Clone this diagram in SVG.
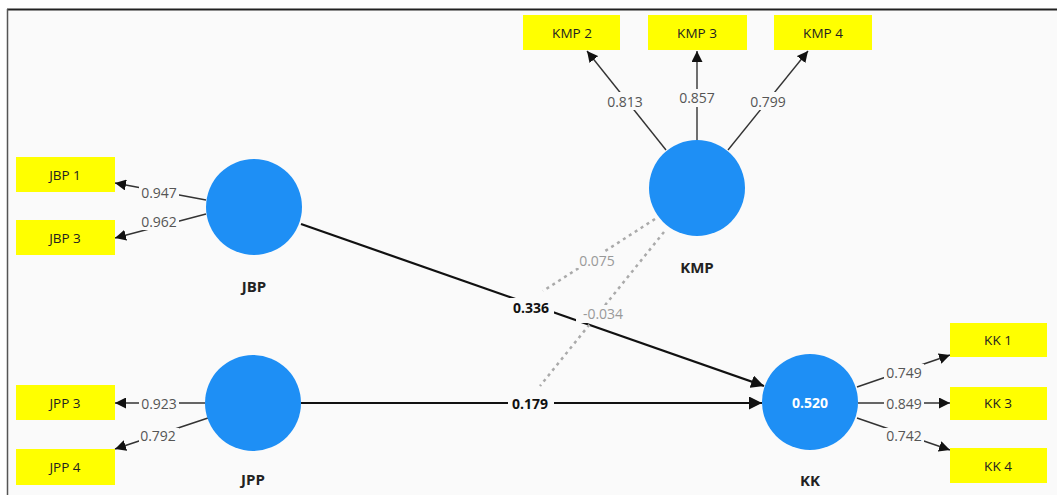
<svg xmlns="http://www.w3.org/2000/svg" width="1057" height="495" viewBox="0 0 1057 495">
<style>
.ind{fill:#ffff00;}
.indt{font-family:"Open Sans","Noto Sans",sans-serif;font-size:13.5px;fill:#222;text-anchor:middle;dominant-baseline:central;}
.lv{fill:#1e8ff5;}
.lvt{font-family:"Open Sans","Noto Sans",sans-serif;font-size:15px;font-weight:bold;fill:#222;text-anchor:middle;dominant-baseline:central;}
.ol{stroke:#333;stroke-width:1.4;fill:none;marker-end:url(#ah);}
.sl{stroke:#111;stroke-width:2.2;fill:none;marker-end:url(#ah2);}
.dl{stroke:#aaa;stroke-width:2.5;stroke-dasharray:3 4;fill:none;}
.bg{fill:#fafafa;}
.olt{font-family:"Open Sans","Noto Sans",sans-serif;font-size:14px;fill:#555;text-anchor:middle;dominant-baseline:central;}
.slt{font-family:"Open Sans","Noto Sans",sans-serif;font-size:14px;font-weight:bold;fill:#111;text-anchor:middle;dominant-baseline:central;}
.dlt{font-family:"Open Sans","Noto Sans",sans-serif;font-size:14px;fill:#999;text-anchor:middle;dominant-baseline:central;}
</style>
<defs>
<marker id="ah" viewBox="0 0 10 10" refX="10" refY="5" markerWidth="11" markerHeight="11" markerUnits="userSpaceOnUse" orient="auto"><path d="M0,0 L10,5 L0,10 z" fill="#111"/></marker>
<marker id="ah2" viewBox="0 0 10 10" refX="10" refY="5" markerWidth="13" markerHeight="13" markerUnits="userSpaceOnUse" orient="auto"><path d="M0,0 L10,5 L0,10 z" fill="#111"/></marker>
</defs>
<rect x="0" y="0" width="1057" height="495" fill="#ffffff"/>
<rect x="7" y="9" width="1050" height="486" fill="#fafafa"/>
<line x1="7" y1="9.5" x2="1057" y2="9.5" stroke="#222" stroke-width="2"/>
<line x1="7.5" y1="9" x2="7.5" y2="495" stroke="#555" stroke-width="1.5"/>

<g id="connectors">
  <line class="ol" x1="206" y1="200" x2="115" y2="183"/>
  <line class="ol" x1="206" y1="214" x2="115" y2="238"/>
  <line class="ol" x1="205" y1="403" x2="115" y2="403"/>
  <line class="ol" x1="208" y1="418" x2="115" y2="449"/>
  <line class="ol" x1="666" y1="150" x2="587" y2="51"/>
  <line class="ol" x1="697" y1="140" x2="697" y2="51"/>
  <line class="ol" x1="728" y1="150" x2="808" y2="51"/>
  <line class="ol" x1="857" y1="387" x2="950" y2="355"/>
  <line class="ol" x1="858" y1="403" x2="950" y2="403"/>
  <line class="ol" x1="857" y1="418" x2="950" y2="450"/>
  <line class="sl" x1="301" y1="224" x2="764" y2="386"/>
  <line class="sl" x1="301" y1="403" x2="762" y2="403"/>
  <line class="dl" x1="655" y1="219" x2="543" y2="291"/>
  <line class="dl" x1="664" y1="232" x2="540" y2="386"/>
  <rect class="bg" x="139" y="185" width="40" height="16"/><text class="olt" x="159" y="192">0.947</text>
  <rect class="bg" x="139" y="214" width="40" height="16"/><text class="olt" x="159" y="221">0.962</text>
  <rect class="bg" x="139" y="395" width="40" height="16"/><text class="olt" x="159" y="403">0.923</text>
  <rect class="bg" x="139" y="428" width="40" height="16"/><text class="olt" x="158" y="435">0.792</text>
  <rect class="bg" x="605" y="92" width="40" height="18"/><text class="olt" x="625" y="101">0.813</text>
  <rect class="bg" x="677" y="89" width="40" height="18"/><text class="olt" x="697" y="97">0.857</text>
  <rect class="bg" x="748" y="92" width="40" height="18"/><text class="olt" x="768" y="101">0.799</text>
  <rect class="bg" x="884" y="364" width="40" height="16"/><text class="olt" x="904" y="372">0.749</text>
  <rect class="bg" x="884" y="395" width="40" height="16"/><text class="olt" x="904" y="403">0.849</text>
  <rect class="bg" x="884" y="428" width="40" height="16"/><text class="olt" x="904" y="435">0.742</text>
  <rect class="bg" x="508" y="298" width="46" height="18"/><text class="slt" x="531" y="307">0.336</text>
  <rect class="bg" x="508" y="394" width="46" height="18"/><text class="slt" x="530" y="403">0.179</text>
  <rect class="bg" x="577" y="252" width="40" height="16"/><text class="dlt" x="597" y="260">0.075</text>
  <rect class="bg" x="576" y="305" width="54" height="18"/><text class="dlt" x="603" y="313">-0.034</text>
</g>

<g id="JBP">
  <circle class="lv" cx="254" cy="207" r="48"/>
  <text class="lvt" x="254" y="286">JBP</text>
</g>
<g id="JPP">
  <circle class="lv" cx="253" cy="403" r="48"/>
  <text class="lvt" x="253" y="479">JPP</text>
</g>
<g id="KMP">
  <circle class="lv" cx="697" cy="188" r="48"/>
  <text class="lvt" x="697" y="267">KMP</text>
</g>
<g id="KK">
  <circle class="lv" cx="810" cy="402" r="48"/>
  <text class="slt" x="810" y="402" style="fill:#fff">0.520</text>
  <text class="lvt" x="810" y="480">KK</text>
</g>

<g id="JBP1"><rect class="ind" x="16" y="157" width="99" height="35"/><text class="indt" x="65" y="175">JBP 1</text></g>
<g id="JBP3"><rect class="ind" x="16" y="220" width="99" height="35"/><text class="indt" x="65" y="238">JBP 3</text></g>
<g id="JPP3"><rect class="ind" x="16" y="385" width="99" height="35"/><text class="indt" x="65" y="403">JPP 3</text></g>
<g id="JPP4"><rect class="ind" x="16" y="449" width="99" height="36"/><text class="indt" x="65" y="467">JPP 4</text></g>
<g id="KMP2"><rect class="ind" x="523" y="15" width="97" height="35"/><text class="indt" x="572" y="33">KMP 2</text></g>
<g id="KMP3"><rect class="ind" x="648" y="15" width="99" height="35"/><text class="indt" x="697" y="33">KMP 3</text></g>
<g id="KMP4"><rect class="ind" x="774" y="15" width="98" height="35"/><text class="indt" x="823" y="33">KMP 4</text></g>
<g id="KK1"><rect class="ind" x="950" y="323" width="97" height="34"/><text class="indt" x="998" y="340">KK 1</text></g>
<g id="KK3"><rect class="ind" x="950" y="387" width="97" height="33"/><text class="indt" x="998" y="403">KK 3</text></g>
<g id="KK4"><rect class="ind" x="950" y="448" width="97" height="35"/><text class="indt" x="998" y="466">KK 4</text></g>
</svg>
